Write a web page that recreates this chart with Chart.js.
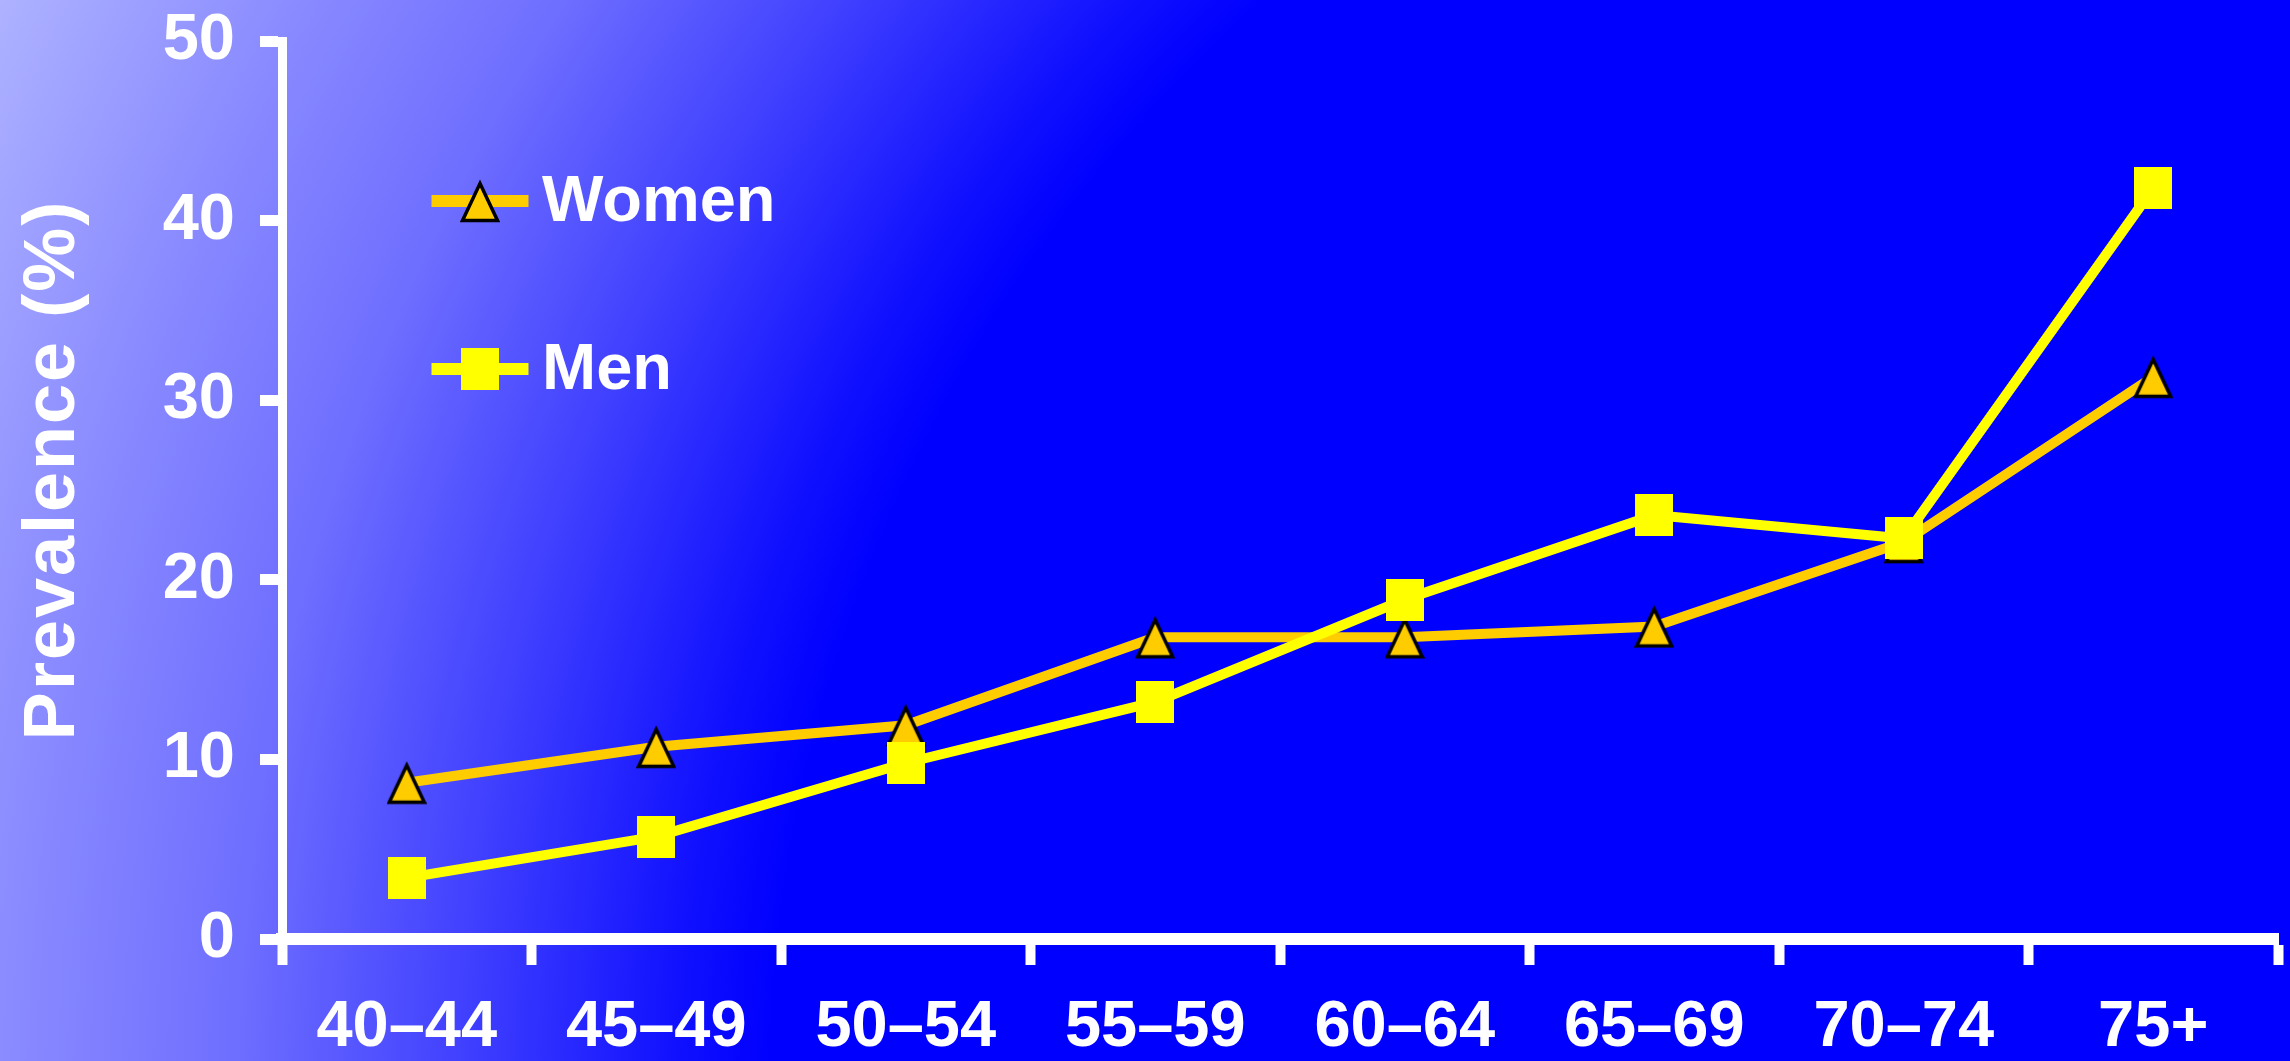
<!DOCTYPE html>
<html>
<head>
<meta charset="utf-8">
<title>Prevalence by age group</title>
<script src="https://cdn.jsdelivr.net/npm/chart.js@4.4.1/dist/chart.umd.min.js"></script>
<style>
  html, body { margin: 0; padding: 0; background: #0000ff; }
  #wrap { width: 2290px; height: 1061px; }
</style>
</head>
<body>
<div id="wrap"><canvas id="grafico" width="2290" height="1061"></canvas></div>
<script>
// dados
const faixasEtarias = ['40–44', '45–49', '50–54', '55–59', '60–64', '65–69', '70–74', '75+'];
const women = [8.7, 10.7, 11.9, 16.8, 16.8, 17.4, 22.1, 31.3];
const men = [3.4, 5.7, 9.8, 13.2, 18.9, 23.6, 22.3, 41.8];
const yTicks = [0, 10, 20, 30, 40, 50];
const nomesSeries = ['Women', 'Men'];
const tituloEixoY = 'Prevalence (%)';

const FONTE = "'Liberation Sans', Arial, sans-serif";

function triangulo(cor) {
    const c = document.createElement('canvas');
    c.width = 40; c.height = 44;
    const g = c.getContext('2d');
    g.beginPath();
    g.moveTo(20, 4.5);
    g.lineTo(37.5, 41.5);
    g.lineTo(2.5, 41.5);
    g.closePath();
    g.fillStyle = cor;
    g.fill();
    g.lineWidth = 3.5;
    g.strokeStyle = '#000';
    g.stroke();
    return c;
}

function quadrado(cor) {
    const c = document.createElement('canvas');
    c.width = 38; c.height = 42;
    const g = c.getContext('2d');
    g.fillStyle = cor;
    g.fillRect(0, 0, 38, 42);
    return c;
}

// degradê radial a partir do canto inferior direito
const fundo = {
    id: 'fundo',
    beforeDraw(chart) {
        const { ctx, width, height } = chart;
        const grad = ctx.createRadialGradient(2240, 1100, 1470, 2240, 1100, 2495);
        grad.addColorStop(0, '#0000ff');
        grad.addColorStop(0.09, '#1010ff');
        grad.addColorStop(0.3, '#4040ff');
        grad.addColorStop(0.52, '#6e6eff');
        grad.addColorStop(0.76, '#8c8dff');
        grad.addColorStop(1, '#aeb2ff');
        ctx.save();
        ctx.fillStyle = grad;
        ctx.fillRect(0, 0, width, height);
        ctx.restore();
    }
};

const legenda = {
    id: 'legenda',
    afterDraw(chart, args, opts) {
        const ctx = chart.ctx;
        chart.data.datasets.forEach((ds, i) => {
            const pos = opts.itens[i];
            ctx.save();
            ctx.strokeStyle = ds.borderColor;
            ctx.lineWidth = opts.espessura;
            ctx.beginPath();
            ctx.moveTo(pos.x - opts.comprimento / 2, pos.y);
            ctx.lineTo(pos.x + opts.comprimento / 2, pos.y);
            ctx.stroke();
            const m = ds.pointStyle;
            ctx.drawImage(m, pos.x - m.width / 2, pos.y - m.height / 2);
            ctx.fillStyle = '#fff';
            ctx.font = 'bold 65px ' + FONTE;
            ctx.textBaseline = 'middle';
            ctx.fillText(ds.label, pos.x + opts.distTexto, pos.y + 2);
            ctx.restore();
        });
    }
};

const tituloY = {
    id: 'tituloY',
    afterDraw(chart, args, opts) {
        const ctx = chart.ctx;
        ctx.save();
        ctx.translate(opts.x, opts.y);
        ctx.rotate(-Math.PI / 2);
        ctx.fillStyle = '#fff';
        ctx.font = 'bold 72px ' + FONTE;
        ctx.letterSpacing = '2px';
        ctx.textAlign = 'center';
        ctx.textBaseline = 'middle';
        ctx.fillText(opts.texto, 0, 0);
        ctx.restore();
    }
};

const fonteTicks = { family: FONTE, size: 65, weight: 'bold', lineHeight: 1 };

new Chart(document.getElementById('grafico').getContext('2d'), {
    type: 'line',
    data: {
        labels: faixasEtarias,
        datasets: [
            {
                label: nomesSeries[0],
                data: women,
                borderColor: '#ffcc00',
                borderWidth: 10,
                pointStyle: triangulo('#ffcc00'),
                pointRadius: 20,
                pointHoverRadius: 20,
                tension: 0,
                fill: false,
                order: 1
            },
            {
                label: nomesSeries[1],
                data: men,
                borderColor: '#ffff00',
                borderWidth: 10,
                pointStyle: quadrado('#ffff00'),
                pointRadius: 20,
                pointHoverRadius: 20,
                tension: 0,
                fill: false,
                order: 0
            }
        ]
    },
    options: {
        responsive: false,
        animation: false,
        devicePixelRatio: 1,
        layout: { autoPadding: false, padding: { top: 41, right: 12, left: 0, bottom: 0 } },
        plugins: {
            legend: { display: false },
            tooltip: { enabled: false },
            legenda: {
                itens: [{ x: 480, y: 201 }, { x: 480, y: 369 }],
                comprimento: 97,
                espessura: 12,
                distTexto: 62
            },
            tituloY: { texto: tituloEixoY, x: 54, y: 470 }
        },
        scales: {
            x: {
                offset: true,
                grid: {
                    offset: true,
                    drawOnChartArea: false,
                    tickColor: '#fff',
                    tickWidth: 10,
                    tickLength: 26
                },
                border: { color: '#fff', width: 12 },
                ticks: {
                    color: '#fff',
                    font: fonteTicks,
                    padding: 31,
                    maxRotation: 0,
                    autoSkip: false
                },
                afterFit: s => {
                    s.height = 122;
                    s.paddingLeft = 0;
                    s.paddingRight = 0;
                }
            },
            y: {
                min: 0,
                max: 50,
                afterBuildTicks: s => { s.ticks = yTicks.map(v => ({ value: v })); },
                grid: {
                    drawOnChartArea: false,
                    tickColor: '#fff',
                    tickWidth: 11,
                    tickLength: 22
                },
                border: { color: '#fff', width: 9 },
                ticks: {
                    color: '#fff',
                    font: fonteTicks,
                    padding: 25
                },
                afterFit: s => {
                    s.width = 282;
                    s.paddingTop = 0;
                    s.paddingBottom = 0;
                }
            }
        }
    },
    plugins: [fundo, legenda, tituloY]
});
</script>
</body>
</html>
